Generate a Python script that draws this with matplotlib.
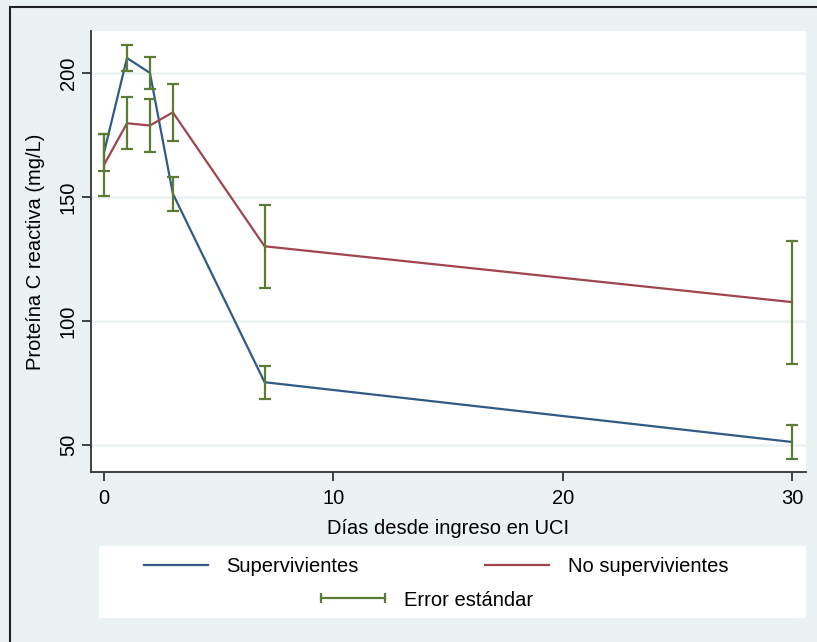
import matplotlib
matplotlib.use('Agg')
import matplotlib.pyplot as plt
from matplotlib.lines import Line2D
from matplotlib.patches import Rectangle

# PCR por día desde el ingreso en UCI
dias = [0, 1, 2, 3, 7, 30]
pcr_superv = [168, 206, 200, 151.3, 75.3, 51.2]
ee_superv = [7.5, 5.4, 6.4, 6.9, 6.7, 6.9]
pcr_no_superv = [163, 179.7, 178.8, 184.1, 130.1, 107.6]
ee_no_superv = [12.5, 10.5, 10.7, 11.5, 16.7, 24.8]

xticks = [0, 10, 20, 30]
yticks = [50, 100, 150, 200]

azul = '#305b87'
rojo = '#a0454d'
verde = '#5b7d33'
fondo = '#eaf2f3'
fs = 14.5

plt.rcParams['font.family'] = ['Liberation Sans', 'DejaVu Sans']

W, H = 817, 642
fig = plt.figure(figsize=(W / 100, H / 100), dpi=100, facecolor=fondo)
ax = fig.add_axes([91 / W, 1 - 472 / H, (806 - 91) / W, (472 - 31) / H])
ax.set_facecolor('white')

ax.plot(dias, pcr_superv, color=azul, lw=1.6, zorder=2)
ax.plot(dias, pcr_no_superv, color=rojo, lw=1.6, zorder=2)
for y, e in [(pcr_superv, ee_superv), (pcr_no_superv, ee_no_superv)]:
    ax.errorbar(dias, y, yerr=e, fmt='none', ecolor=verde, elinewidth=1.6,
                capsize=4, capthick=1.6, zorder=3)

ax.set_xlim(-0.57, 30.61)
ax.set_ylim(39.1, 216.9)
ax.set_xticks(xticks)
ax.set_yticks(yticks)
ax.set_yticklabels([str(v) for v in yticks], rotation=90, va='center')
ax.grid(axis='y', color=fondo, lw=1.8)
ax.set_axisbelow(True)

for s in ['top', 'right']:
    ax.spines[s].set_visible(False)
for s in ['left', 'bottom']:
    ax.spines[s].set_color('#333333')
    ax.spines[s].set_linewidth(1.3)
ax.tick_params(direction='out', length=6.5, width=1.3, color='#333333',
               labelsize=fs, pad=6)
ax.tick_params(axis='y', pad=3)

ax.set_xlabel('Días desde ingreso en UCI', fontsize=fs, labelpad=8)
ax.set_ylabel('Proteína C reactiva (mg/L)', fontsize=fs, labelpad=10)

# caja blanca de la leyenda
fig.add_artist(Rectangle((99 / W, 1 - 618 / H), (806 - 99) / W, (618 - 546) / H,
                         transform=fig.transFigure, fc='white', ec='none', zorder=0))

entradas = [
    (Line2D([], [], color=azul, lw=1.6), 'Supervivientes', 138, 567),
    (Line2D([], [], color=rojo, lw=1.6), 'No supervivientes', 479, 567),
    (Line2D([], [], color=verde, lw=1.6, marker='|', markersize=7, mew=1.6),
     'Error estándar', 315, 600),
]
for h, lab, x0, y0 in entradas:
    fig.legend([h], [lab], loc='center left', bbox_to_anchor=(x0 / W, 1 - y0 / H),
               frameon=False, borderpad=0, borderaxespad=0, fontsize=fs,
               handlelength=3.8, handletextpad=0.6, numpoints=2)

# marco exterior
fig.add_artist(Rectangle((10 / W, -0.05), 1.5, 1 - 7 / H + 0.05, transform=fig.transFigure,
                         fill=False, ec='#222222', lw=1.5))

fig.savefig('out.png', dpi=100, facecolor=fondo)
